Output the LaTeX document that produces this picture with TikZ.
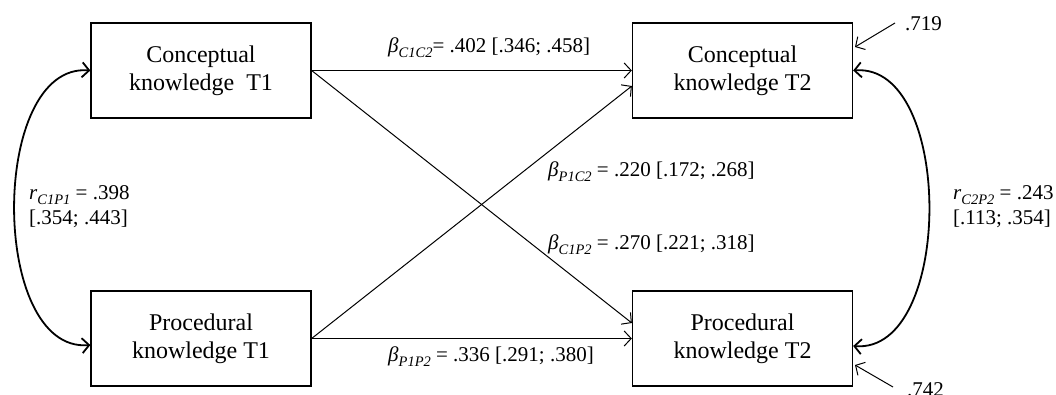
\documentclass[tikz,border=0pt]{standalone}
\usepackage{fontspec}
\setmainfont{Liberation Serif}
\usetikzlibrary{arrows.meta}
% italic subscript for path coefficients
\newcommand{\coefsub}[1]{\raisebox{-0.25em}{\fontsize{14.5}{14.5}\selectfont\itshape #1}}
\begin{document}
\begin{tikzpicture}[x=1pt,y=-1pt,
  var/.style={draw, line width=1.3pt, minimum width=220pt, minimum height=95pt,
    align=center, inner sep=0pt, font=\fontsize{24}{28}\selectfont},
  regpath/.style={line width=1pt, -{Straight Barb[length=7pt,width=15pt]}},
  covpath/.style={line width=1.8pt,
    {Straight Barb[length=7pt,width=15pt]}-{Straight Barb[length=7pt,width=15pt]}},
  errpath/.style={line width=1pt, -{Straight Barb[length=7pt,width=15pt]}},
  lab/.style={inner sep=0pt, anchor=base west, font=\fontsize{21}{23}\selectfont},
]
\useasboundingbox (0,0) rectangle (1056,394);

% observed variables
\node[var] (C1) at (201,70.5) {Conceptual\\knowledge~~T1};
\node[var] (P1) at (201,338.5) {Procedural\\knowledge T1};
\node[var] (C2) at (742.5,70.5) {Conceptual\\knowledge T2};
\node[var] (P2) at (742.5,338.5) {Procedural\\knowledge T2};

% cross-lagged and autoregressive paths
\draw[regpath] (C1.east) -- (C2.west);
\draw[regpath] (P1.east) -- (P2.west);
\draw[regpath] (C1.east) -- ([yshift=15.5pt]P2.west);
\draw[regpath] (P1.east) -- ([yshift=-15.5pt]C2.west);

% correlations
\draw[covpath] (C1.west) .. controls +(-101,-8) and +(-101,8) .. ([yshift=-6.5pt]P1.west);
\draw[covpath] (C2.east) .. controls +(101,-8) and +(101,8) .. ([yshift=-7.5pt]P2.east);

% residuals
\coordinate (e1) at (895,23);
\coordinate (e1tip) at (855,47);
\coordinate (e2) at (893,387);
\coordinate (e2tip) at (855,365);
\draw[errpath] (e1) -- (e1tip);
\draw[errpath] (e2) -- (e2tip);
\node[lab] (res1) at (905,30) {.719};
\node[lab] (res2) at (907,396) {.742};

% coefficient labels
\node[lab] (bC1C2) at (388,52) {\textit{β}\coefsub{C1C2}= .402 [.346; .458]};
\node[lab] (bP1C2) at (548,176) {\textit{β}\coefsub{P1C2} = .220 [.172; .268]};
\node[lab] (bC1P2) at (548,249) {\textit{β}\coefsub{C1P2} = .270 [.221; .318]};
\node[lab] (bP1P2) at (388,361) {\textit{β}\coefsub{P1P2} = .336 [.291; .380]};

\node[lab] (rC1P1) at (29,199) {\textit{r}\coefsub{C1P1} = .398};
\node[lab] (rC1P1ci) at (29,224) {[.354; .443]};
\node[lab] (rC2P2) at (953,199) {\textit{r}\coefsub{C2P2} = .243};
\node[lab] (rC2P2ci) at (953,224) {[.113; .354]};
\end{tikzpicture}
\end{document}
